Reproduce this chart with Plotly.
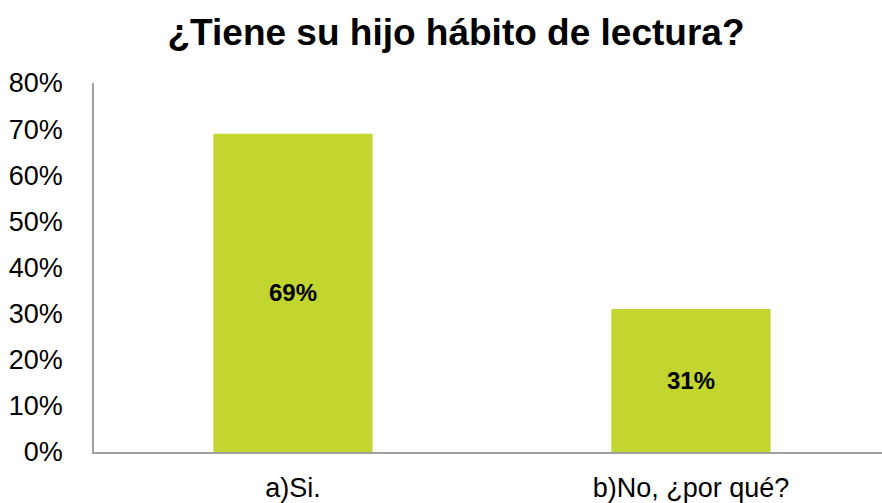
import plotly.graph_objects as go

categories = ["a)Si.", "b)No, ¿por qué?"]
values = [0.69, 0.31]
labels = ["69%", "31%"]

fig = go.Figure(go.Bar(
    x=categories,
    y=values,
    width=0.4,
    marker=dict(color="#C2D62F", line=dict(width=0)),
    text=labels,
    textposition="inside",
    insidetextanchor="middle",
    textfont=dict(family="Liberation Sans", size=24, color="black", weight="bold"),
    textangle=0,
))

fig.update_layout(
    width=882,
    height=503,
    paper_bgcolor="white",
    plot_bgcolor="white",
    margin=dict(l=94, r=0, t=83, b=48),
    font=dict(family="Liberation Sans", color="black"),
    title=dict(
        text="<b>¿Tiene su hijo hábito de lectura?</b>",
        font=dict(size=37, color="black"),
        x=0.517, xref="container", xanchor="center",
        y=0.937, yref="container", yanchor="middle",
    ),
    showlegend=False,
    xaxis=dict(
        range=[-0.5, 1.48],
        showline=True, linecolor="#A0A0A0", linewidth=1.5,
        showgrid=False, ticks="",
        tickfont=dict(size=27),
        ticklabelstandoff=11,
    ),
    yaxis=dict(
        range=[0, 0.8],
        dtick=0.1,
        tickformat=".0%",
        showline=True, linecolor="#A0A0A0", linewidth=1.5,
        showgrid=False, zeroline=False, ticks="",
        tickfont=dict(size=27),
        ticklabelstandoff=24,
    ),
)

fig.write_html("out.html", config={"displayModeBar": False},
               post_script="document.body.style.margin='0';")
